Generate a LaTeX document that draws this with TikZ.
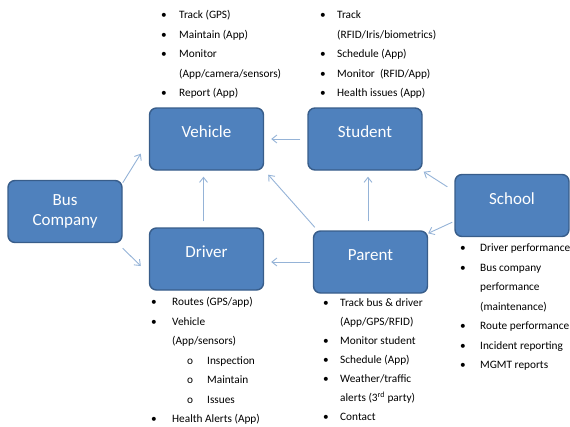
\documentclass[tikz,border=0pt]{standalone}
\usepackage{fontspec}
\setmainfont{Carlito}
\usetikzlibrary{arrows.meta}

\definecolor{boxfill}{HTML}{4F81BD}
\definecolor{boxline}{HTML}{385D8A}
\definecolor{linkcol}{HTML}{95B3D7}

\tikzset{
    entity/.style={draw=boxline,fill=boxfill,line width=1.4pt,rounded corners=7pt,
        minimum width=114pt,minimum height=62pt,text=white,align=center,
        font=\fontsize{17}{20}\selectfont},
    raised/.style={text height=12pt,text depth=15pt},
    link/.style={draw=linkcol,line width=0.9pt,-{Straight Barb[length=5pt,width=8pt]}},
    blist/.style={anchor=north west,inner sep=0pt,font=\fontsize{11.3}{19.5}\selectfont}
}

\begin{document}
\begin{tikzpicture}[x=1pt,y=-1pt]
    \useasboundingbox (0,0) rectangle (570,426);
    % boxes
    \node[entity,raised] (veh) at (206.5,139) {Vehicle};
    \node[entity] (bus) at (65,211.5) {Bus\\Company};
    \node[entity,raised] (drv) at (206.5,259) {Driver};
    \node[entity,raised] (stu) at (365,139) {Student};
    \node[entity,raised] (sch) at (512,205.5) {School};
    \node[entity,raised] (par) at (370.5,262) {Parent};
    % links
    \draw[link] ([yshift=-3pt]bus.north east) -- ([xshift=-8pt,yshift=17pt]veh.south west);
    \draw[link] ([yshift=-5pt]bus.south east) -- ([xshift=-8pt,yshift=-7pt]drv.west);
    \draw[link] ([xshift=-3pt,yshift=6pt]drv.north) -- ([xshift=-3pt,yshift=-6pt]veh.south);
    \draw[link] ([xshift=-7pt]stu.west) -- ([xshift=7pt]veh.east);
    \draw[link] ([xshift=2pt,yshift=3pt]par.north west) -- ([xshift=4pt,yshift=-4pt]veh.south east);
    \draw[link] ([xshift=-3pt]par.west) -- ([xshift=7pt,yshift=-3pt]drv.east);
    \draw[link] ([xshift=-2.5pt,yshift=9pt]par.north) -- ([xshift=3pt,yshift=-6pt]stu.south);
    \draw[link] ([xshift=-7pt,yshift=-13pt]sch.north west) -- ([xshift=1pt,yshift=-1pt]stu.south east);
    \draw[link] ([xshift=-2pt,yshift=15pt]sch.south west) -- ([yshift=-3pt]par.north east);
    % bullet lists
    \node[blist] (vehlist) at (161,5) {\begin{tabular}{@{}p{18pt}@{}l@{}}
        \textbullet & Track (GPS)\\
        \textbullet & Maintain (App)\\
        \textbullet & Monitor\\
                    & (App/camera/sensors)\\
        \textbullet & Report (App)
    \end{tabular}};
    \node[blist] (stulist) at (320,5) {\begin{tabular}{@{}p{17pt}@{}l@{}}
        \textbullet & Track\\
                    & (RFID/Iris/biometrics)\\
        \textbullet & Schedule (App)\\
        \textbullet & Monitor\ \ (RFID/App)\\
        \textbullet & Health issues (App)
    \end{tabular}};
    \node[blist] (drvlist) at (151,292) {\begin{tabular}{@{}p{21pt}@{}l@{}}
        \textbullet & Routes (GPS/app)\\
        \textbullet & Vehicle\\
                    & (App/sensors)\\
                    & \hspace*{15pt}\makebox[20pt][l]{o}Inspection\\
                    & \hspace*{15pt}\makebox[20pt][l]{o}Maintain\\
                    & \hspace*{15pt}\makebox[20pt][l]{o}Issues\\
        \textbullet & Health Alerts (App)
    \end{tabular}};
    \node[blist,font=\fontsize{11.3}{19}\selectfont] (parlist) at (323,293) {\begin{tabular}{@{}p{17pt}@{}l@{}}
        \textbullet & Track bus \& driver\\
                    & (App/GPS/RFID)\\
        \textbullet & Monitor student\\
        \textbullet & Schedule (App)\\
        \textbullet & Weather/traffic\\
                    & alerts (3\textsuperscript{rd} party)\\
        \textbullet & Contact
    \end{tabular}};
    \node[blist] (schlist) at (460,238) {\begin{tabular}{@{}p{20pt}@{}l@{}}
        \textbullet & Driver performance\\
        \textbullet & Bus company\\
                    & performance\\
                    & (maintenance)\\
        \textbullet & Route performance\\
        \textbullet & Incident reporting\\
        \textbullet & MGMT reports
    \end{tabular}};
\end{tikzpicture}
\end{document}
